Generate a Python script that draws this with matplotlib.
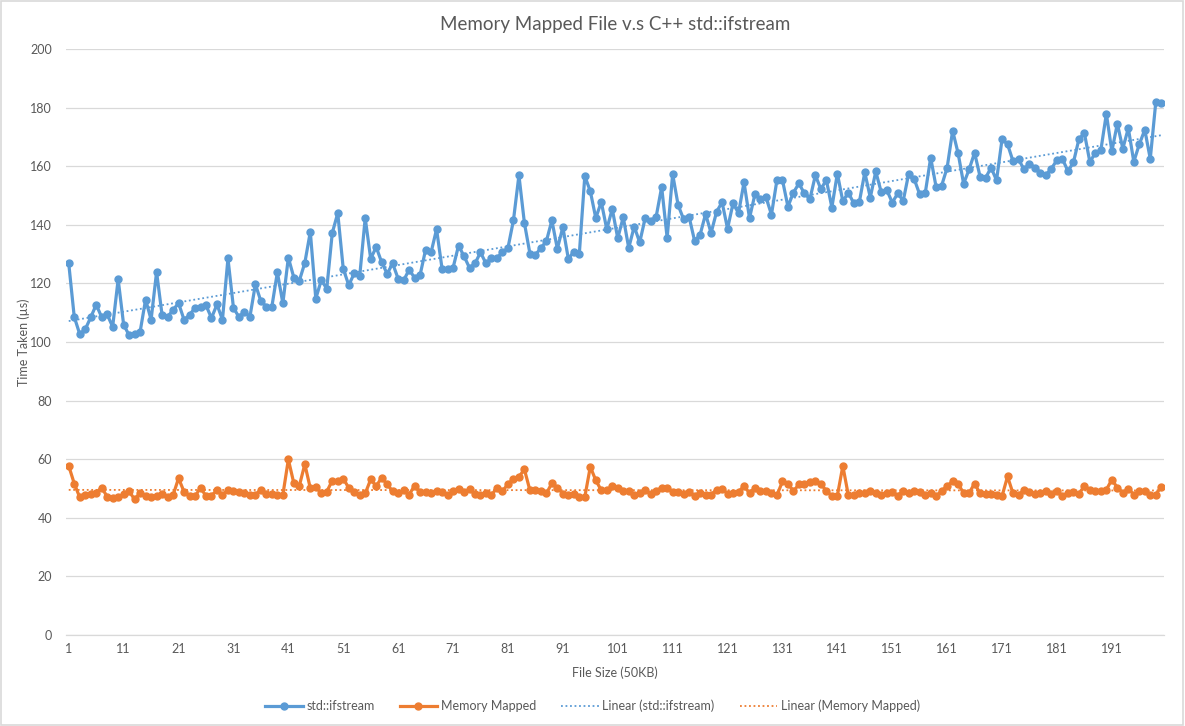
import numpy as np
import matplotlib
matplotlib.use("Agg")
import matplotlib.pyplot as plt
from matplotlib.patches import Rectangle

plt.rcParams['font.family'] = ['Lato', 'DejaVu Sans']

ifstream = [
    126.8, 108.6, 102.7, 104.3, 108.4, 112.7, 108.5, 109.4, 105.2, 121.4,
    105.9, 102.3, 102.8, 103.5, 114.5, 107.6, 123.9, 109.2, 108.6, 110.9,
    113.3, 107.6, 109.2, 111.7, 112.1, 112.5, 108.2, 112.8, 107.6, 128.5,
    111.7, 108.5, 110.4, 108.6, 119.7, 113.9, 112.1, 112.1, 123.8, 113.2,
    128.8, 122.0, 120.9, 127.0, 137.6, 114.8, 121.1, 118.2, 137.2, 144.0,
    125.0, 119.4, 123.4, 122.5, 142.3, 128.4, 132.4, 127.2, 123.3, 126.8,
    121.6, 121.0, 124.7, 121.9, 122.9, 131.5, 130.6, 138.5, 125.0, 125.0,
    125.3, 132.9, 129.3, 125.3, 126.8, 130.6, 126.8, 128.7, 128.7, 130.6,
    132.1, 141.5, 156.9, 140.6, 130.2, 129.7, 132.1, 134.4, 141.5, 131.8,
    139.2, 128.4, 130.8, 130.1, 156.6, 151.5, 142.3, 147.8, 138.5, 145.4,
    135.4, 142.6, 132.1, 139.4, 134.0, 142.3, 141.2, 142.8, 152.9, 135.5,
    157.3, 146.7, 141.9, 142.7, 134.5, 136.6, 143.7, 137.2, 144.4, 147.7,
    138.7, 147.3, 144.0, 154.5, 142.3, 150.5, 148.7, 149.4, 143.5, 155.3,
    155.3, 146.2, 151.0, 154.1, 150.7, 148.8, 156.9, 152.2, 155.3, 145.9,
    157.5, 148.0, 151.0, 147.3, 147.7, 157.9, 149.3, 158.2, 151.1, 151.9,
    147.6, 150.7, 148.2, 157.5, 155.6, 150.4, 150.7, 162.9, 152.8, 153.4,
    159.5, 172.1, 164.4, 154.0, 158.9, 164.6, 156.4, 156.0, 159.5, 155.2,
    169.2, 167.5, 161.7, 162.4, 158.9, 160.9, 159.5, 157.8, 157.0, 159.2,
    162.1, 162.5, 158.3, 161.3, 169.2, 171.3, 161.4, 164.6, 165.5, 177.9,
    165.1, 174.5, 166.0, 173.0, 161.5, 167.5, 172.4, 162.5, 181.8, 181.4,
]

mmapped = [
    57.7, 51.7, 47.0, 47.9, 48.2, 48.6, 50.3, 47.2, 46.9, 47.0,
    48.1, 49.0, 46.3, 48.5, 47.4, 47.0, 47.5, 48.2, 47.0, 47.7,
    53.5, 48.9, 47.5, 47.3, 50.3, 47.4, 47.6, 49.4, 47.9, 49.5,
    49.1, 48.7, 48.5, 47.8, 47.9, 49.6, 48.1, 48.2, 47.8, 47.8,
    59.9, 51.8, 50.9, 58.3, 50.1, 50.4, 48.5, 48.9, 52.7, 52.7,
    53.4, 50.2, 48.7, 47.9, 48.3, 53.1, 50.8, 53.7, 51.4, 49.1,
    48.4, 49.5, 47.9, 51.0, 48.9, 48.9, 48.5, 49.2, 48.9, 47.7,
    49.2, 50.0, 48.9, 49.7, 48.1, 47.7, 48.3, 47.7, 50.3, 49.1,
    51.5, 53.2, 54.0, 56.5, 49.4, 49.6, 49.3, 48.3, 51.8, 50.3,
    48.2, 47.9, 48.1, 47.1, 47.1, 57.4, 52.8, 49.4, 49.4, 50.7,
    50.3, 49.1, 49.1, 47.9, 48.5, 49.5, 48.1, 49.2, 50.3, 50.3,
    48.9, 48.9, 48.1, 48.8, 47.6, 48.3, 47.9, 47.9, 49.6, 50.0,
    48.2, 48.5, 48.9, 50.8, 48.5, 50.1, 49.1, 49.1, 48.3, 47.7,
    52.4, 51.7, 49.1, 51.4, 51.5, 52.1, 52.6, 51.7, 49.1, 47.5,
    47.5, 57.7, 47.7, 47.7, 48.3, 48.5, 49.1, 48.3, 47.7, 48.5,
    48.9, 47.6, 49.3, 48.3, 49.3, 48.9, 47.7, 48.3, 47.4, 49.2,
    50.8, 52.5, 51.7, 48.3, 48.5, 51.7, 48.3, 48.2, 48.2, 47.7,
    47.4, 54.1, 48.3, 47.7, 49.6, 48.7, 48.1, 48.3, 49.1, 48.1,
    49.1, 47.4, 48.5, 48.7, 48.2, 50.8, 49.6, 49.3, 49.3, 49.6,
    53.0, 50.3, 48.5, 50.0, 47.9, 49.1, 49.2, 47.9, 47.9, 50.6,
]

x = np.arange(1, len(ifstream) + 1)
tick_pos = list(range(1, 200, 10))

blue = '#5B9BD5'
orange = '#ED7D31'
grey = '#595959'
grid = '#D9D9D9'

fig = plt.figure(figsize=(11.85, 7.26), dpi=100)
ax = fig.add_axes([66 / 1185, 1 - 635 / 726, (1164 - 66) / 1185, (635 - 49) / 726])

ax.plot(x, ifstream, color=blue, lw=2.3, marker='o', ms=5, label='std::ifstream', zorder=3)
ax.plot(x, mmapped, color=orange, lw=2.3, marker='o', ms=5, label='Memory Mapped', zorder=3)

# linear trend lines
for ys, c, name in [(ifstream, blue, 'Linear (std::ifstream)'),
                    (mmapped, orange, 'Linear (Memory Mapped)')]:
    k, b = np.polyfit(x, ys, 1)
    ax.plot(x, k * x + b, color=c, lw=1.3, ls=(0, (1, 1.5)), label=name, zorder=2)

ax.set_xlim(0.5, len(x) + 0.5)
ax.set_ylim(0, 200)
ax.set_yticks(range(0, 201, 20))
ax.set_xticks(tick_pos)
ax.set_xticklabels([str(t) for t in tick_pos])
ax.grid(axis='y', color=grid, lw=0.9)
ax.set_axisbelow(True)
for s in ['left', 'right', 'top']:
    ax.spines[s].set_visible(False)
ax.spines['bottom'].set_color(grid)
ax.spines['bottom'].set_linewidth(0.9)
ax.tick_params(axis='y', length=0, labelsize=9, colors=grey, pad=10)
ax.tick_params(axis='x', length=0, labelsize=9, colors=grey, pad=6)

ax.set_title('Memory Mapped File v.s C++ std::ifstream', fontsize=13.5, color=grey, pad=14)
ax.set_xlabel('File Size (50KB)', fontsize=9, color=grey, labelpad=8)
ax.set_ylabel('Time Taken (µs)', fontsize=9, color=grey)
ax.yaxis.set_label_coords((30 - 66) / 1098, 0.5)

fig.legend(loc='center', bbox_to_anchor=(0.5, 1 - 706 / 726), ncol=4, frameon=False,
           fontsize=9, labelcolor=grey, handlelength=3.0, handletextpad=0.3,
           columnspacing=2.0)

fig.patches.append(Rectangle((0.0005, 0.0008), 0.998, 0.998, transform=fig.transFigure,
                             fill=False, edgecolor=grid, lw=1.2))

fig.savefig('out.png', dpi=100)
